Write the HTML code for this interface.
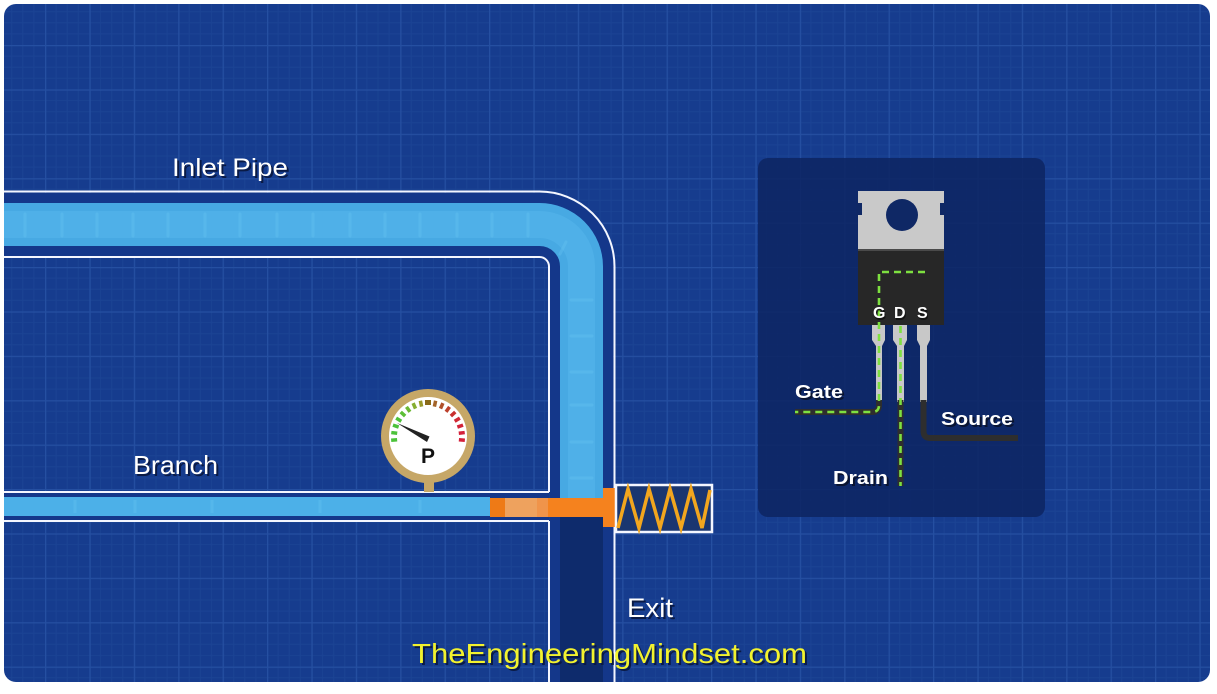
<!DOCTYPE html>
<html><head><meta charset="utf-8"><style>html,body{margin:0;padding:0;background:#fff;width:1217px;height:694px;overflow:hidden}svg{display:block}</style></head><body>
<svg width="1217" height="694" viewBox="0 0 1217 694" xmlns="http://www.w3.org/2000/svg">
<defs>
<clipPath id="clip"><rect x="4" y="4" width="1206" height="678" rx="12" ry="12"/></clipPath>
<pattern id="grid" width="44.4" height="44.4" patternUnits="userSpaceOnUse" x="0.6" y="0.6">
<rect width="44.4" height="44.4" fill="#163c8e"/>
<path d="M11.1,0V44.4M22.2,0V44.4M33.3,0V44.4M0,11.1H44.4M0,22.2H44.4M0,33.3H44.4" stroke="#1b4394" stroke-width="1"/>
<path d="M0.5,0V44.4M0,0.5H44.4" stroke="#254fa1" stroke-width="1.6"/>
</pattern>
</defs>
<g clip-path="url(#clip)">
<rect x="0" y="0" width="1217" height="694" fill="url(#grid)"/>

<!-- inlet pipe body -->
<path d="M0,224.5 H539.5 A42,42 0 0 1 581.5,266.5 V700" fill="none" stroke="#14378a" stroke-width="63"/>
<!-- fluid -->
<path d="M0,224.5 H539.5 A42,42 0 0 1 581.5,266.5 V498" fill="none" stroke="#47a9e3" stroke-width="43"/>
<path d="M0,224.5 H539.5 A42,42 0 0 1 581.5,266.5 V498" fill="none" stroke="#52b4ea" stroke-width="27" opacity="0.7"/>
<!-- empty lower pipe -->
<rect x="560" y="517" width="43" height="170" fill="#0e2b6c"/>
<!-- fluid streaks -->
<g stroke="#6cc8f4" stroke-width="3" opacity="0.3" stroke-linecap="round">
<path d="M25,214V236M62,214V236M97,214V236M133,214V236M168,214V236M205,214V236M240,214V236M277,214V236M313,214V236M350,214V236M385,214V236M420,214V236M457,214V236M492,214V236M528,214V236"/>
<path d="M566,242L560,254M571,300H592M571,336H592M571,372H592M571,405H592M571,442H592M571,478H592"/>
</g>
<!-- white lines -->
<path d="M0,191.5 H539.5 A75,75 0 0 1 614.5,266.5 V700" fill="none" stroke="#f4f6ff" stroke-width="2"/>
<path d="M0,257 H539.5 A9.5,9.5 0 0 1 549,266.5 V492" fill="none" stroke="#f4f6ff" stroke-width="2"/>
<path d="M549,521 V700" fill="none" stroke="#f4f6ff" stroke-width="2"/>

<!-- branch -->
<rect x="0" y="493" width="549" height="27" fill="#14378a"/>
<rect x="0" y="497" width="490" height="19" fill="#4cb0e8"/>
<g stroke="#6cc8f4" stroke-width="3" opacity="0.3"><path d="M75,500V513M135,500V513M212,500V513M320,500V513M420,500V513"/></g>
<path d="M0,492 H549" stroke="#f4f6ff" stroke-width="2"/>
<path d="M0,521 H549" stroke="#f4f6ff" stroke-width="2"/>

<!-- orange plunger -->
<rect x="490" y="498" width="15" height="19" fill="#ee7a16"/>
<rect x="505" y="498" width="43" height="19" fill="#eea25e"/>
<rect x="537" y="498" width="11" height="19" fill="#f0944a"/>
<rect x="548" y="498" width="57" height="19" fill="#f5821e"/>
<rect x="603" y="488" width="14" height="39" fill="#f5821e"/>
<!-- spring box -->
<rect x="616" y="485" width="96" height="47" fill="#1a3670" stroke="#f4f6ff" stroke-width="2.5"/>
<polyline points="618,528 628,489 639,528 649,489 660,528 670,489 681,528 691,489 702,528 710,490" fill="none" stroke="#f2a61e" stroke-width="3.5" stroke-linejoin="miter"/>

<!-- gauge -->
<rect x="424" y="476" width="10" height="16" fill="#c6a767"/>
<circle cx="428" cy="436" r="43" fill="#ffffff" stroke="#c6a767" stroke-width="8"/>
<g stroke-width="3.5">
<line x1="428" y1="400" x2="428" y2="406" stroke="#4cc23a" transform="rotate(-95 428 437)"/>
<line x1="428" y1="400" x2="428" y2="406" stroke="#4cc23a" transform="rotate(-83.1 428 437)"/>
<line x1="428" y1="400" x2="428" y2="406" stroke="#4cc23a" transform="rotate(-71.25 428 437)"/>
<line x1="428" y1="400" x2="428" y2="406" stroke="#4cc23a" transform="rotate(-59.4 428 437)"/>
<line x1="428" y1="400" x2="428" y2="406" stroke="#5cbf36" transform="rotate(-47.5 428 437)"/>
<line x1="428" y1="400" x2="428" y2="406" stroke="#6cb834" transform="rotate(-35.6 428 437)"/>
<line x1="428" y1="400" x2="428" y2="406" stroke="#86ae30" transform="rotate(-23.75 428 437)"/>
<line x1="428" y1="400" x2="428" y2="406" stroke="#9a9a2c" transform="rotate(-11.9 428 437)"/>
<rect x="425" y="400" width="6" height="5" fill="#8a6a1a" stroke="none"/>
<line x1="428" y1="400" x2="428" y2="406" stroke="#a4642a" transform="rotate(11.9 428 437)"/>
<line x1="428" y1="400" x2="428" y2="406" stroke="#b0502a" transform="rotate(23.75 428 437)"/>
<line x1="428" y1="400" x2="428" y2="406" stroke="#bc402c" transform="rotate(35.6 428 437)"/>
<line x1="428" y1="400" x2="428" y2="406" stroke="#c8302e" transform="rotate(47.5 428 437)"/>
<line x1="428" y1="400" x2="428" y2="406" stroke="#d02834" transform="rotate(59.4 428 437)"/>
<line x1="428" y1="400" x2="428" y2="406" stroke="#d22238" transform="rotate(71.25 428 437)"/>
<line x1="428" y1="400" x2="428" y2="406" stroke="#d4203a" transform="rotate(83.1 428 437)"/>
<line x1="428" y1="400" x2="428" y2="406" stroke="#d4203a" transform="rotate(95 428 437)"/>
</g>
<polygon points="397,423 429.5,436.5 427,442" fill="#222"/>
<text x="428" y="463" text-anchor="middle" font-family="Liberation Sans, sans-serif" font-weight="bold" font-size="21" fill="#111">P</text>

<!-- MOSFET panel -->
<rect x="758" y="158" width="287" height="359" rx="10" ry="10" fill="#0d2562" opacity="0.85"/>
<!-- tab -->
<rect x="858" y="191" width="86" height="58" fill="#c9c9c9"/>
<rect x="856" y="203" width="6" height="12" fill="#0f2865"/>
<rect x="940" y="203" width="6" height="12" fill="#0f2865"/>
<circle cx="902" cy="215" r="16" fill="#0f2865"/>
<!-- body -->
<rect x="858" y="249" width="86" height="76" fill="#272727"/>
<rect x="858" y="249" width="86" height="2" fill="#4a4a4a"/>
<!-- legs -->
<g fill="#c8c8c8">
<path d="M872,325 H885 V340 L882,346 V402 H876 V346 L872,340 Z"/>
<path d="M893,325 H907 V340 L904,346 V402 H897 V346 L893,340 Z"/>
<path d="M917,325 H930 V340 L927,346 V402 H920 V346 L917,340 Z"/>
</g>
<!-- wires -->
<g fill="none" stroke="#2e2e2e" stroke-width="6" stroke-linejoin="round">
<path d="M879,400 V405 Q879,412 872,412 H795"/>
<path d="M900.5,400 V486"/>
<path d="M923.5,400 V431 Q923.5,438 930,438 H1018"/>
</g>
<!-- green dashes -->
<g fill="none" stroke="#7ee040" stroke-width="2.6" stroke-dasharray="7,5">
<path d="M925,272 H879 V405 Q879,412 872,412 H795"/>
<path d="M900.5,326 V486"/>
</g>
<!-- GDS -->
<g font-family="Liberation Sans, sans-serif" font-weight="bold" font-size="16">
<text x="874" y="320" fill="#000" opacity="0.5">G</text>
<text x="873" y="318" fill="#fff">G</text>
<text x="895" y="320" fill="#000" opacity="0.5">D</text>
<text x="894" y="318" fill="#fff">D</text>
<text x="918" y="320" fill="#000" opacity="0.5">S</text>
<text x="917" y="318" fill="#fff">S</text>
</g>
<g font-family="Liberation Sans, sans-serif" font-weight="bold" font-size="18">
<text x="797" y="400" textLength="48" lengthAdjust="spacingAndGlyphs" fill="#0a1430">Gate</text>
<text x="795" y="398" textLength="48" lengthAdjust="spacingAndGlyphs" fill="#fff">Gate</text>
<text x="943" y="427" textLength="72" lengthAdjust="spacingAndGlyphs" fill="#0a1430">Source</text>
<text x="941" y="425" textLength="72" lengthAdjust="spacingAndGlyphs" fill="#fff">Source</text>
<text x="835" y="486" textLength="55" lengthAdjust="spacingAndGlyphs" fill="#0a1430">Drain</text>
<text x="833" y="484" textLength="55" lengthAdjust="spacingAndGlyphs" fill="#fff">Drain</text>
</g>

<!-- labels -->
<g font-family="Liberation Sans, sans-serif" font-size="25">
<text x="174" y="178" textLength="116" lengthAdjust="spacingAndGlyphs" fill="#0a1a45">Inlet Pipe</text>
<text x="172" y="176" textLength="116" lengthAdjust="spacingAndGlyphs" fill="#fff">Inlet Pipe</text>
<text x="135" y="476" textLength="85" lengthAdjust="spacingAndGlyphs" fill="#0a1a45" font-size="26">Branch</text>
<text x="133" y="474" textLength="85" lengthAdjust="spacingAndGlyphs" fill="#fff" font-size="26">Branch</text>
<text x="629" y="619" textLength="46" lengthAdjust="spacingAndGlyphs" fill="#0a1a45" font-size="27">Exit</text>
<text x="627" y="617" textLength="46" lengthAdjust="spacingAndGlyphs" fill="#fff" font-size="27">Exit</text>
</g>
<g font-family="Liberation Sans, sans-serif" font-size="28">
<text x="414" y="665" textLength="395" lengthAdjust="spacingAndGlyphs" fill="#0a1a45">TheEngineeringMindset.com</text>
<text x="412" y="663" textLength="395" lengthAdjust="spacingAndGlyphs" fill="#f2f22e">TheEngineeringMindset.com</text>
</g>
</g>
</svg>
</body></html>
